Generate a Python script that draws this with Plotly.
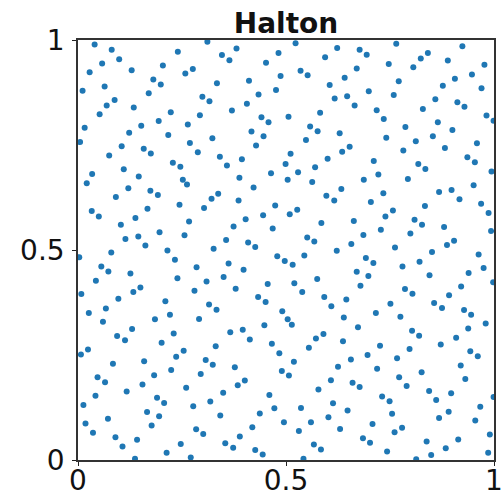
import plotly.graph_objects as go

# Halton points (unit square)
x_values = [
    0.040,0.081,0.240,0.311,0.099,0.058,0.028,0.129,0.204,0.276,0.258,0.181,0.199,0.011,0.064,0.170,0.299,0.316,0.088,0.069,0.134,0.052,0.223,0.293,0.016,0.152,0.194,0.264,0.123,0.217,0.005,0.323,0.269,0.105,0.158,0.175,0.288,0.075,0.228,0.246,0.110,0.034,0.146,
    0.346,0.364,0.381,0.482,0.523,0.452,0.594,0.623,0.334,0.411,0.487,0.535,0.552,0.641,0.605,0.476,0.434,0.406,0.617,0.647,0.665,0.370,0.441,0.458,0.506,0.582,0.558,0.576,0.629,0.417,0.446,0.428,0.548,0.653,0.635,0.341,0.394,0.511,0.499,0.600,0.358,0.570,0.464,0.529,0.388,
    0.677,0.694,0.765,0.924,0.670,0.747,0.806,0.824,0.841,0.889,0.977,0.947,0.906,0.771,0.877,0.970,0.699,0.759,0.859,0.912,0.929,0.829,0.718,0.735,0.982,0.999,0.865,0.787,0.900,0.741,0.812,0.853,0.959,0.782,0.882,0.936,0.954,0.711,0.818,0.835,0.722,0.994,
    0.021,0.252,0.262,0.121,0.174,0.192,0.091,0.321,0.303,0.244,0.167,0.033,0.050,0.138,0.267,0.103,0.196,0.256,0.114,0.145,0.162,0.326,0.215,0.003,0.080,0.233,0.056,0.073,0.285,0.126,0.239,0.043,0.309,0.150,0.133,0.280,0.008,0.097,0.210,0.315,0.067,0.026,0.221,
    0.504,0.563,0.422,0.337,0.633,0.386,0.597,0.616,0.474,0.527,0.509,0.445,0.403,0.374,0.468,0.585,0.663,0.356,0.409,0.426,0.551,0.568,0.657,0.622,0.479,0.497,0.516,0.544,0.362,0.398,0.350,0.456,0.520,0.575,0.379,0.539,0.433,0.451,0.592,0.645,0.333,0.609,0.491,0.639,
    0.687,0.793,0.734,0.868,0.898,0.951,0.917,0.704,0.834,0.969,0.987,0.757,0.739,0.809,0.827,0.880,0.993,0.728,0.686,0.799,0.904,0.887,0.762,0.851,0.963,0.692,0.710,0.780,0.821,0.975,0.670,0.698,0.845,0.939,0.679,0.786,0.804,0.921,0.998,0.892,0.856,0.875,0.751,0.716,0.775,0.928,0.945,
    0.060,0.185,0.291,0.130,0.094,0.113,0.230,0.201,0.024,0.007,0.254,0.236,0.084,0.159,0.307,0.324,0.224,0.183,0.047,0.065,0.295,0.155,0.260,0.117,0.042,0.190,0.207,0.013,0.318,0.277,0.166,0.195,0.072,0.018,0.177,0.284,0.301,0.036,0.090,0.142,0.107,0.247,0.213,0.137,0.271,
    0.504,0.514,0.448,0.366,0.396,0.413,0.466,0.331,0.484,0.519,0.572,0.590,0.637,0.555,0.656,0.625,0.377,0.490,0.507,0.608,0.660,0.401,0.384,0.578,0.349,0.460,0.613,0.536,0.472,0.648,0.342,0.437,0.602,0.560,0.495,0.419,0.531,0.630,0.389,0.354,0.373,0.567,0.584,0.426,0.444,0.542,
    0.673,0.980,0.938,0.803,0.820,0.909,0.726,0.872,0.797,0.943,0.961,0.696,0.767,0.920,0.719,0.826,0.772,0.931,0.677,0.790,0.844,0.897,0.731,0.749,0.861,0.999,0.967,0.891,0.755,0.868,0.955,0.708,0.779,0.761,0.990,0.685,0.702,0.838,0.914,0.884,0.743,0.849,0.986,0.813,
]
y_values = [
    0.989,0.977,0.972,0.996,0.954,0.944,0.923,0.928,0.939,0.931,0.920,0.906,0.894,0.879,0.889,0.873,0.865,0.854,0.857,0.844,0.839,0.823,0.828,0.821,0.791,0.796,0.807,0.799,0.779,0.774,0.757,0.766,0.755,0.747,0.741,0.730,0.733,0.725,0.708,0.698,0.692,0.681,0.675,
    0.964,0.952,0.980,0.969,0.992,0.946,0.959,0.981,0.897,0.903,0.914,0.927,0.916,0.910,0.893,0.881,0.870,0.848,0.861,0.866,0.844,0.832,0.816,0.804,0.817,0.827,0.794,0.783,0.778,0.782,0.771,0.749,0.762,0.746,0.734,0.722,0.716,0.729,0.705,0.717,0.701,0.697,0.683,0.685,0.672,
    0.977,0.965,0.991,0.985,0.932,0.943,0.935,0.956,0.969,0.951,0.941,0.918,0.908,0.902,0.891,0.885,0.878,0.869,0.859,0.852,0.841,0.836,0.833,0.812,0.820,0.808,0.804,0.793,0.786,0.767,0.759,0.771,0.754,0.737,0.743,0.721,0.709,0.712,0.705,0.693,0.680,0.687,
    0.659,0.667,0.656,0.647,0.641,0.631,0.626,0.622,0.600,0.608,0.598,0.593,0.580,0.576,0.568,0.560,0.542,0.535,0.526,0.532,0.511,0.503,0.499,0.483,0.494,0.477,0.461,0.449,0.459,0.444,0.433,0.427,0.425,0.411,0.400,0.403,0.395,0.384,0.378,0.370,0.361,0.350,0.346,
    0.667,0.662,0.649,0.634,0.645,0.618,0.629,0.618,0.606,0.596,0.585,0.583,0.573,0.556,0.551,0.564,0.569,0.524,0.518,0.507,0.530,0.520,0.514,0.498,0.485,0.474,0.465,0.487,0.468,0.453,0.436,0.419,0.421,0.431,0.408,0.400,0.388,0.376,0.388,0.382,0.358,0.366,0.354,0.339,
    0.667,0.669,0.635,0.638,0.643,0.654,0.621,0.614,0.605,0.610,0.588,0.594,0.580,0.572,0.560,0.555,0.545,0.548,0.536,0.539,0.522,0.512,0.506,0.495,0.489,0.481,0.469,0.461,0.472,0.457,0.448,0.438,0.440,0.445,0.415,0.407,0.396,0.413,0.423,0.392,0.374,0.362,0.372,0.350,0.341,0.357,0.346,
    0.329,0.335,0.336,0.312,0.295,0.285,0.301,0.279,0.263,0.251,0.260,0.246,0.229,0.235,0.238,0.227,0.214,0.202,0.197,0.185,0.205,0.180,0.172,0.163,0.153,0.148,0.136,0.131,0.139,0.128,0.114,0.104,0.098,0.087,0.082,0.073,0.062,0.065,0.054,0.048,0.032,0.038,0.017,0.003,0.006,
    0.335,0.322,0.321,0.304,0.310,0.287,0.277,0.271,0.254,0.234,0.289,0.300,0.283,0.267,0.239,0.222,0.221,0.212,0.201,0.190,0.184,0.189,0.178,0.168,0.160,0.155,0.135,0.124,0.123,0.118,0.106,0.111,0.102,0.090,0.090,0.078,0.069,0.074,0.056,0.040,0.029,0.037,0.025,0.024,0.013,0.003,
    0.316,0.325,0.313,0.308,0.296,0.291,0.272,0.275,0.264,0.259,0.247,0.250,0.242,0.225,0.217,0.209,0.197,0.193,0.174,0.176,0.164,0.159,0.151,0.140,0.143,0.150,0.127,0.115,0.110,0.100,0.094,0.086,0.077,0.066,0.061,0.052,0.041,0.044,0.049,0.028,0.020,0.012,0.017,0.002,
]

tick_values = [0, 0.5, 1]
tick_labels = ["0", "0.5", "1"]
title_text = "Halton"

n = min(len(x_values), len(y_values))

fig = go.Figure(
    go.Scatter(
        x=x_values[:n], y=y_values[:n], mode="markers",
        marker=dict(color="#1f77b4", size=6, line=dict(width=0)),
        cliponaxis=True, showlegend=False,
    )
)

axis_style = dict(
    range=[0, 1], tickmode="array", tickvals=tick_values, ticktext=tick_labels,
    ticks="outside", ticklen=4, tickwidth=1, tickcolor="#222",
    showline=True, mirror=True, linecolor="#333", linewidth=1.5,
    showgrid=False, zeroline=False, automargin=False,
    tickfont=dict(family="DejaVu Sans", size=28, color="#111"),
)

fig.update_layout(
    width=503, height=496,
    margin=dict(l=78, r=9, t=40, b=36),
    paper_bgcolor="white", plot_bgcolor="white",
    title=dict(text="<b>" + title_text + "</b>", x=0.5, xref="paper",
               y=1 - 23 / 496, yref="container", yanchor="middle",
               font=dict(family="DejaVu Sans", size=28, color="#111")),
    xaxis=dict(axis_style, ticklabelstandoff=-9),
    yaxis=dict(axis_style, ticklabelstandoff=2),
)

fig.write_html("out.html")
